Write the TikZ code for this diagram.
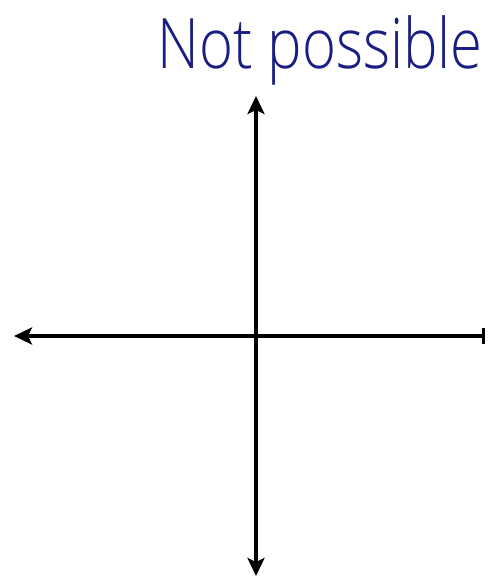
\documentclass[tikz,border=0pt]{standalone}
\usepackage{fontspec}
\setmainfont{Open Sans}
\usetikzlibrary{arrows.meta}
\definecolor{penblue}{RGB}{25,30,130}
\tikzset{
  axisline/.style={line width=3.5pt, black},
  axistip/.tip={Stealth[length=18pt, width=17pt, inset=4pt]},
  handtext/.style={text=penblue, font=\fontsize{58}{58}\selectfont\fontspec{Open Sans Light}, inner sep=0pt, anchor=base}
}
\begin{document}
\begin{tikzpicture}[x=1pt, y=-1pt]
  \useasboundingbox (0,0) rectangle (503,576);
  % title
  \node[handtext] (title) at (320,68) {\scalebox{1}[1.2]{Not possible}};
  % axes
  \coordinate (xl) at (14,336);
  \coordinate (xr) at (485,336);
  \coordinate (yt) at (256,96);
  \coordinate (yb) at (256,576);
  \draw[axisline, axistip-{Bar[width=16pt]}] (xl) -- (xr);
  \draw[axisline, axistip-axistip] (yt) -- (yb);
\end{tikzpicture}
\end{document}
